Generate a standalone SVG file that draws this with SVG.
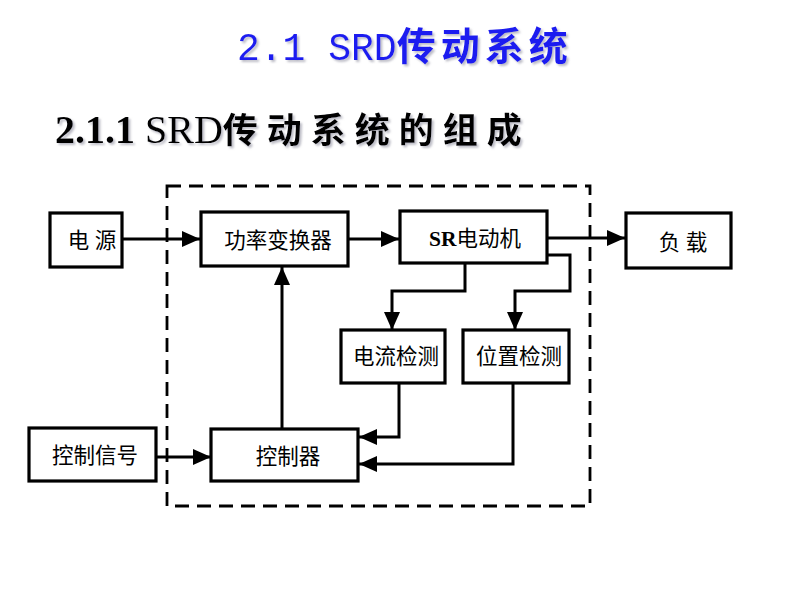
<svg xmlns="http://www.w3.org/2000/svg" width="800" height="600" viewBox="0 0 800 600">
<defs>
<marker id="ah" markerUnits="userSpaceOnUse" markerWidth="20" markerHeight="16" refX="18" refY="8" orient="auto">
<path d="M0,0 L18,8 L0,16 Z" fill="#000"/>
</marker>
<filter id="shadow" x="-5%" y="-20%" width="110%" height="150%">
<feDropShadow dx="2" dy="2" stdDeviation="1.2" flood-color="#9090a0" flood-opacity="0.6"/>
</filter>
<style>
.box{fill:#fff;stroke:#000;stroke-width:3.2}
.lbl{font-family:"Liberation Serif","Noto Sans CJK SC",serif;font-size:21.5px;fill:#000;text-anchor:middle}
.conn{fill:none;stroke:#000;stroke-width:3}
.arr{marker-end:url(#ah)}
</style>
</defs>
<rect width="800" height="600" fill="#fff"/>
<g id="title" filter="url(#shadow)">
<text x="237" y="60" fill="#1c1cf0" font-family="Liberation Mono,monospace" font-size="38"><tspan>2.1 SRD</tspan><tspan font-family="Noto Sans CJK SC,sans-serif" font-weight="bold" font-size="39" letter-spacing="5">传动系统</tspan></text>
</g>
<g id="subtitle" filter="url(#shadow)">
<text x="55" y="143" fill="#000" font-family="Liberation Serif,serif" font-size="40"><tspan font-weight="bold">2.1.1</tspan><tspan> SRD</tspan><tspan font-family="Noto Sans CJK SC,sans-serif" font-weight="bold" font-size="35" letter-spacing="9">传动系统的组成</tspan></text>
</g>
<rect id="boundary" x="167" y="186" width="423" height="320" fill="none" stroke="#000" stroke-width="2.8" stroke-dasharray="14,8"/>
<g id="connectors">
<path class="conn arr" d="M122,239 H200"/>
<path class="conn arr" d="M349,239 H399"/>
<path class="conn arr" d="M547,238 H625"/>
<path class="conn arr" d="M465,264 V291 H392 V330"/>
<path class="conn arr" d="M547,255 H570 V291 H515 V330"/>
<path class="conn arr" d="M399,383 V437 H359"/>
<path class="conn arr" d="M513,383 V464 H359"/>
<path class="conn arr" d="M282,429 V267"/>
<path class="conn arr" d="M157,457 H211"/>
</g>
<g id="power"><rect class="box" x="50" y="213" width="72" height="54"/><text class="lbl" x="92" y="248">电 源</text></g>
<g id="converter"><rect class="box" x="201" y="212" width="147" height="54"/><text class="lbl" x="278" y="248">功率变换器</text></g>
<g id="motor"><rect class="box" x="400" y="211" width="147" height="52"/><text class="lbl" x="475" y="246"><tspan font-weight="bold">SR</tspan>电动机</text></g>
<g id="load"><rect class="box" x="626" y="213" width="105" height="55"/><text class="lbl" x="683" y="250">负 载</text></g>
<g id="current"><rect class="box" x="341" y="330" width="104" height="53"/><text class="lbl" x="396" y="364">电流检测</text></g>
<g id="position"><rect class="box" x="463" y="330" width="106" height="53"/><text class="lbl" x="519" y="364">位置检测</text></g>
<g id="signal"><rect class="box" x="29" y="428" width="127" height="53"/><text class="lbl" x="95" y="463">控制信号</text></g>
<g id="controller"><rect class="box" x="211" y="429" width="147" height="52"/><text class="lbl" x="288" y="464">控制器</text></g>
</svg>
